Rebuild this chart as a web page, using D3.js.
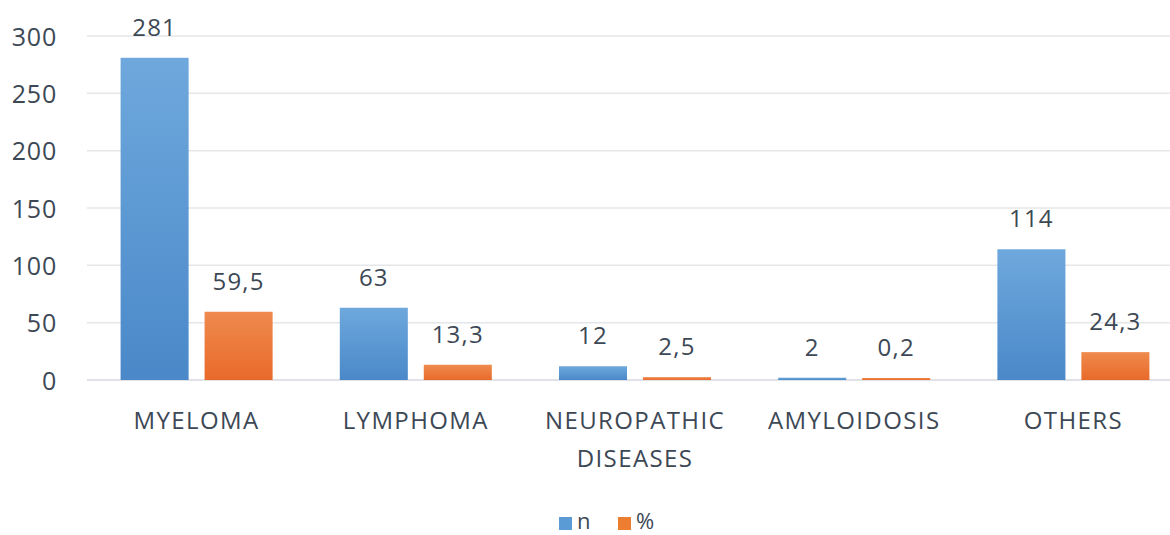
<!DOCTYPE html>
<html>
<head>
<meta charset="utf-8">
<script src="https://cdn.jsdelivr.net/npm/d3@7"></script>
<style>
  html, body { margin: 0; padding: 0; background: #fff; }
  svg { display: block; }
  text { font-family: "Open Sans", sans-serif; fill: #3d4855; font-weight: 500; }
</style>
</head>
<body>
<svg id="chart" width="1170" height="535"></svg>
<script>
const categories = [["MYELOMA"], ["LYMPHOMA"], ["NEUROPATHIC", "DISEASES"], ["AMYLOIDOSIS"], ["OTHERS"]];
const seriesNames = ["n", "%"];
const nValues = [281, 63, 12, 2, 114];
const pctValues = [59.5, 13.3, 2.5, 0.2, 24.3];
const pctLabels = ["59,5", "13,3", "2,5", "0,2", "24,3"];
const nLabels = ["281", "63", "12", "2", "114"];
const yTicks = [0, 50, 100, 150, 200, 250, 300];

const svg = d3.select("#chart");
const W = 1170, H = 535;
const mLeft = 87, mRight = 1183, mTop = 36, mBottom = 380;

const defs = svg.append("defs");
const gradBlue = defs.append("linearGradient").attr("id", "gBlue").attr("x1", 0).attr("y1", 0).attr("x2", 0).attr("y2", 1);
gradBlue.append("stop").attr("offset", "0%").attr("stop-color", "#6ea8dc");
gradBlue.append("stop").attr("offset", "100%").attr("stop-color", "#4a88c9");
const gradOrange = defs.append("linearGradient").attr("id", "gOrange").attr("x1", 0).attr("y1", 0).attr("x2", 0).attr("y2", 1);
gradOrange.append("stop").attr("offset", "0%").attr("stop-color", "#ef8a4e");
gradOrange.append("stop").attr("offset", "100%").attr("stop-color", "#e86a2a");

const idx = d3.range(categories.length);
const x = d3.scaleBand().domain(idx).range([mLeft, mRight]).paddingInner(0).paddingOuter(0);
const xSub = d3.scaleBand().domain(seriesNames).range([0, x.bandwidth()]).paddingInner(0.19).paddingOuter(0.4);
const y = d3.scaleLinear().domain([0, 300]).range([mBottom, mTop]);

// gridlines
svg.append("g").selectAll("line").data(yTicks).join("line")
  .attr("x1", mLeft).attr("x2", W)
  .attr("y1", d => y(d)).attr("y2", d => y(d))
  .attr("stroke", d => d === 0 ? "#d6d9dd" : "#e4e6e9").attr("stroke-width", 1.5);

// y axis labels
const yAxis = d3.axisLeft(y).tickValues(yTicks).tickSize(0).tickPadding(0);
const gy = svg.append("g").attr("transform", `translate(57,0)`).call(yAxis);
gy.select(".domain").remove();
gy.selectAll("text")
  .style("font-size", "25px")
  .style("letter-spacing", "0.8px")
  .style("font-family", "'Open Sans', sans-serif")
  .style("font-weight", "500")
  .attr("fill", "#3d4855").attr("dy", "0.36em");

const series = [
  { name: "n", values: nValues, labels: nLabels, fill: "url(#gBlue)" },
  { name: "%", values: pctValues, labels: pctLabels, fill: "url(#gOrange)" }
];

series.forEach(s => {
  const g = svg.append("g");
  g.selectAll("rect").data(idx).join("rect")
    .attr("x", i => x(i) + xSub(s.name))
    .attr("width", xSub.bandwidth())
    .attr("y", i => Math.min(y(s.values[i]), mBottom - 2))
    .attr("height", i => Math.max(mBottom - y(s.values[i]), 2))
    .attr("fill", s.fill);
  g.selectAll("text").data(idx).join("text")
    .attr("x", i => x(i) + xSub(s.name) + xSub.bandwidth() / 2)
    .attr("y", i => Math.min(y(s.values[i]), mBottom - 2) - 22)
    .attr("text-anchor", "middle")
    .style("font-size", "24px")
    .style("letter-spacing", "1.2px")
    .text(i => s.labels[i]);
});

// category labels
const xg = svg.append("g");
idx.forEach(i => {
  const t = xg.append("text")
    .attr("x", x(i) + x.bandwidth() / 2)
    .attr("y", 429)
    .attr("text-anchor", "middle")
    .style("font-size", "24px")
    .style("letter-spacing", "1.4px");
  categories[i].forEach((line, k) => {
    t.append("tspan").attr("x", x(i) + x.bandwidth() / 2).attr("dy", k === 0 ? 0 : 38).text(line);
  });
});

// legend
const legend = svg.append("g");
const legendItems = [
  { name: seriesNames[0], fill: "#5b9bd5", x: 559 },
  { name: seriesNames[1], fill: "#ed7d31", x: 618 }
];
legendItems.forEach(d => {
  legend.append("rect").attr("x", d.x).attr("y", 517).attr("width", 13).attr("height", 13).attr("fill", d.fill);
  legend.append("text").attr("x", d.x + 18).attr("y", 529).style("font-size", "22px").text(d.name);
});
</script>
</body>
</html>
